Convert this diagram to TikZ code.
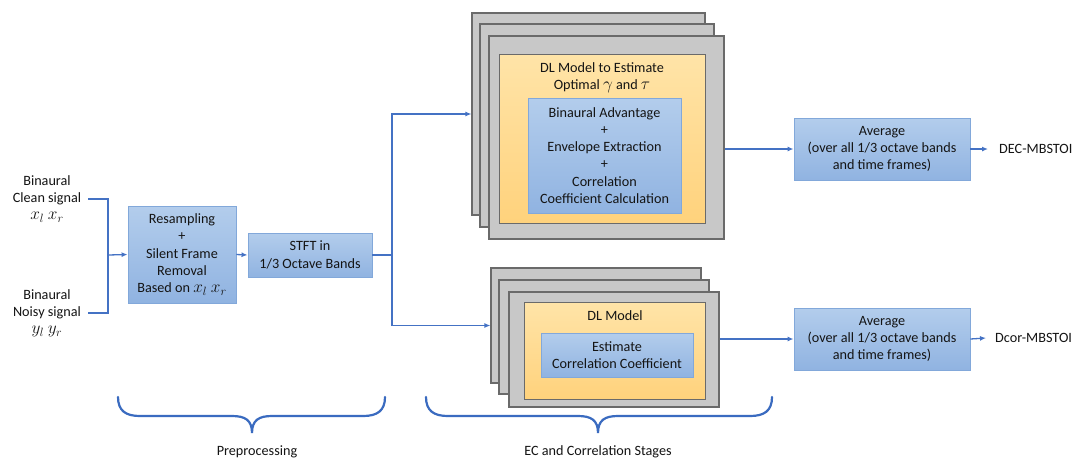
\documentclass[tikz,border=0pt]{standalone}
\usepackage{fontspec}
\setmainfont{Carlito}
\usetikzlibrary{arrows.meta,fit}
\definecolor{conncol}{HTML}{4472C4}
\definecolor{bracecol}{HTML}{3A6BC0}
\definecolor{boxtop}{HTML}{B3CDEC}
\definecolor{boxbot}{HTML}{90B3E1}
\definecolor{boxedge}{HTML}{82A8DA}
\definecolor{graycol}{HTML}{C8C8C8}
\definecolor{grayedge}{HTML}{6A6A6A}
\definecolor{orgtop}{HTML}{FFE4A8}
\definecolor{orgbot}{HTML}{FFD27C}
\definecolor{txtcol}{HTML}{141414}
\newcommand{\bm}[1]{{\fontsize{17}{17}\selectfont$#1$}}
\tikzset{
  txt/.style={font=\fontsize{14.2}{17.2}\selectfont, text=txtcol, align=center},
  bluebox/.style={txt, draw=boxedge, line width=0.9pt, top color=boxtop, bottom color=boxbot, inner sep=0pt},
  graybox/.style={draw=grayedge, fill=graycol, line width=1.1pt, inner sep=0pt},
  orangebox/.style={draw=grayedge, line width=1pt, top color=orgtop, bottom color=orgbot, inner sep=0pt},
  conn/.style={draw=conncol, line width=1.3pt},
  arr/.style={conn, -{Latex[length=6pt,width=5pt]}},
  brace/.style={draw=bracecol, line width=2.2pt, line cap=round}
}
\begin{document}
\begin{tikzpicture}[x=1pt,y=-1pt]
\useasboundingbox (0,0) rectangle (1075,459);
\fill[white] (0,0) rectangle (1075,459);

% inputs
\node[txt, inner sep=2pt] (clean) at (47,199) {Binaural\\Clean signal\\\bm{x_l\ x_r}};
\node[txt, inner sep=2pt] (noisy) at (47,313) {Binaural\\Noisy signal\\\bm{y_l\ y_r}};
\coordinate (j1) at (108,255);

% preprocessing boxes
\node[bluebox, fit={(128,206) (236,303)}] (resamp) {};
\node[txt] at (resamp.center) {Resampling\\+\\Silent Frame\\Removal\\Based on \bm{x_l\ x_r}};
\node[bluebox, fit={(248,233) (372,277)}] (stft) {};
\node[txt] at (stft.center) {STFT in\\1/3 Octave Bands};
\coordinate (j2) at (392,255);

% top stack
\node[graybox, fit={(472,13) (705,215)}] (t1) {};
\node[graybox, fit={(480,24) (714,227)}] (t2) {};
\node[graybox, fit={(489,36) (724,239)}] (t3) {};
\node[orangebox, fit={(499,54) (705,223)}] (t4) {};
\node[txt] (t4title) at (602,77.5) {DL Model to Estimate\\Optimal \bm{\gamma} and \bm{\tau}};
\node[bluebox, fit={(528,98) (681,213)}] (t5) {};
\node[txt] at (t5.center) {Binaural Advantage\\+\\Envelope Extraction\\+\\Correlation\\Coefficient Calculation};

% bottom stack
\node[graybox, fit={(491,268) (701,383)}] (b1) {};
\node[graybox, fit={(499,280) (709,394)}] (b2) {};
\node[graybox, fit={(509,292) (719,407)}] (b3) {};
\node[orangebox, fit={(524,302) (705,399)}] (b4) {};
\node[txt] (b4title) at (615,316) {DL Model};
\node[bluebox, fit={(541,333) (693,377)}] (b5) {};
\node[txt] at (b5.center) {Estimate\\Correlation Coefficient};

% averages
\node[bluebox, fit={(794,118) (970,180)}] (a1) {};
\node[txt] at (a1.center) {Average\\(over all 1/3 octave bands\\and time frames)};
\node[bluebox, fit={(794,308) (970,370)}] (a2) {};
\node[txt] at (a2.center) {Average\\(over all 1/3 octave bands\\and time frames)};

\node[txt, anchor=west, inner sep=0pt] (dec) at (999,149) {DEC-MBSTOI};
\node[txt, anchor=west, inner sep=0pt] (dcor) at (995,338) {Dcor-MBSTOI};

% connectors
\draw[conn] ([xshift=5pt]clean.east) -| (j1) |- ([xshift=5pt]noisy.east);
\draw[arr] (j1) -- (resamp.west);
\draw[arr] (resamp.east) -- (stft.west);
\draw[conn] (stft.east) -- (j2);
\draw[arr] (j2) |- (t1.west);
\draw[arr] (j2) |- (b1.west);
\draw[arr] (t3.east |- a1.west) -- (a1.west);
\draw[arr] (b3.east |- a2.west) -- (a2.west);
\draw[arr] (a1.east) -- ([xshift=-11pt]dec.west);
\draw[arr] (a2.east) -- ([xshift=-9pt]dcor.west);

% braces
\draw[brace] (118,397) .. controls (118,411) and (126,416) .. (140,416) -- (232,416)
  .. controls (245,416) and (252,420) .. (252,433)
  .. controls (252,420) and (259,416) .. (272,416) -- (363,416)
  .. controls (377,416) and (385,411) .. (385,397);
\draw[brace] (426,397) .. controls (426,411) and (434,416) .. (448,416) -- (578,416)
  .. controls (591,416) and (598,420) .. (598,433)
  .. controls (598,420) and (605,416) .. (618,416) -- (750,416)
  .. controls (764,416) and (772,411) .. (772,397);
\node[txt] (pre) at (257,452) {Preprocessing};
\node[txt] (ec) at (598,452) {EC and Correlation Stages};
\end{tikzpicture}
\end{document}
